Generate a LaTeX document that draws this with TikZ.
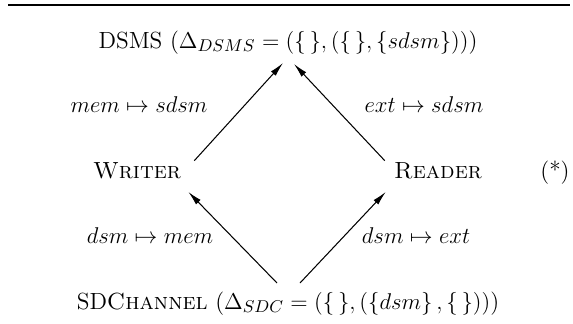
\documentclass[tikz,border=0pt]{standalone}
\usetikzlibrary{arrows.meta}
\begin{document}
\begin{tikzpicture}[x=0.5265pt, y=-0.5265pt, font=\fontsize{12.3}{15}\selectfont,
	arr/.style={-{Latex[length=7.5pt,width=3.4pt]}, line width=0.55pt},
	lbl/.style={anchor=base, inner sep=0pt}]
	\useasboundingbox (0,0) rectangle (573,323);
	\draw[line width=1.3pt] (8,5) -- (570,5);
	% the four states
	\node[lbl] (dsms) at (288,48) {DSMS ($\Delta_{DSMS} = (\{\,\},(\{\,\},\{sdsm\}))$)};
	\node[lbl] (writer) at (137,178) {\textsc{Writer}};
	\node[lbl] (reader) at (438,178) {\textsc{Reader}};
	\node[lbl] (star) at (555,178) {(*)};
	\node[lbl] (sdc) at (288,309) {SD\textsc{Channel} ($\Delta_{SDC} = (\{\,\},(\{dsm\}\,,\{\,\}))$)};
	% mappings
	\node[lbl] (memsdsm) at (139,112) {$mem \mapsto sdsm$};
	\node[lbl] (extsdsm) at (424,112) {$ext \mapsto sdsm$};
	\node[lbl] (dsmmem) at (150,243) {$dsm \mapsto mem$};
	\node[lbl] (dsmext) at (416,243) {$dsm \mapsto ext$};
	% refinements
	\draw[arr] ([shift={(13,-1)}]writer.north east) -- ([shift={(-5,15)}]dsms.base);
	\draw[arr] ([shift={(-9,-1)}]reader.north west) -- ([shift={(6,16)}]dsms.base);
	\draw[arr] ([shift={(-11,-26)}]sdc.base) -- ([shift={(7,13)}]writer.south east);
	\draw[arr] ([shift={(12,-26)}]sdc.base) -- ([shift={(-8,13)}]reader.south west);
\end{tikzpicture}
\end{document}
